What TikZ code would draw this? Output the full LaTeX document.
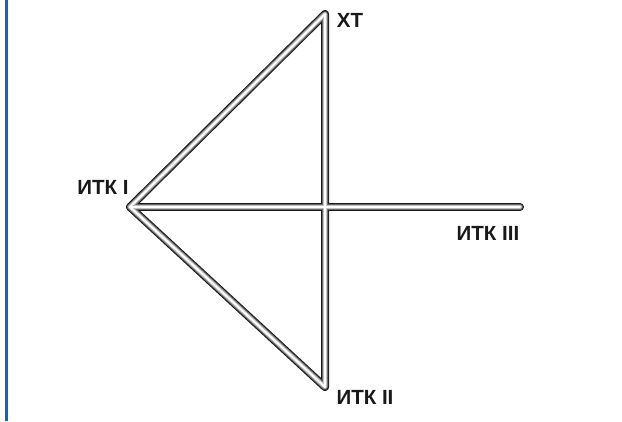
\documentclass[tikz,border=0pt]{standalone}
\usepackage{fontspec}
\setmainfont{Liberation Sans}
\begin{document}
\begin{tikzpicture}[x=1pt,y=-1pt,
  lbl/.style={font=\fontsize{20.5}{20.5}\selectfont\bfseries, inner sep=0pt, text=black!90},
  tubeA/.style={draw=black!90, line width=8pt, line join=round, line cap=round},
  tubeB/.style={draw=black!60, line width=6pt, line join=round, line cap=round},
  tubeC/.style={draw=black!25, line width=4pt, line join=round, line cap=round},
  tubeD/.style={draw=white, line width=2pt, line join=round, line cap=round}]
\definecolor{frameblue}{HTML}{0A66C2}
\useasboundingbox (0,0) rectangle (622,421);
\fill[white] (0,0) rectangle (622,421);
\coordinate (bt) at (6.5,0);
\coordinate (bb) at (6.5,421);
\draw[frameblue, line width=3pt] (bt) -- (bb);
\coordinate (L) at (130,207);
\coordinate (T) at (325,14);
\coordinate (B) at (325,387);
\coordinate (R) at (520,207);
\foreach \s in {tubeA,tubeB,tubeC,tubeD}{
  \draw[\s] (L) -- (T) -- (B) -- cycle;
  \draw[\s] (L) -- (R);
}
\node[lbl] (xt) at (350,20) {XT};
\node[lbl] (i1) at (103,187) {ИТК I};
\node[lbl] (i3) at (488,233) {ИТК III};
\node[lbl] (i2) at (365,397) {ИТК II};
\end{tikzpicture}
\end{document}
